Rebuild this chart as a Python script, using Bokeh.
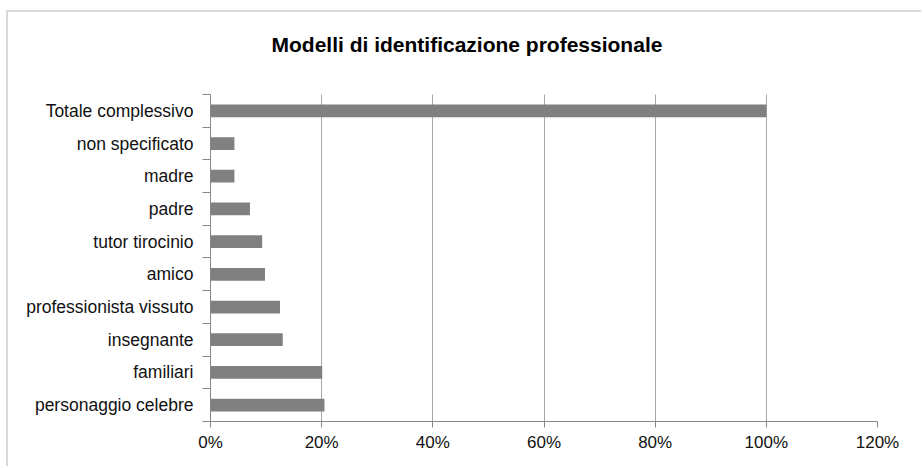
from bokeh.plotting import figure
from bokeh.models import Range1d, FixedTicker, NumeralTickFormatter
from bokeh.embed import file_html
from bokeh.resources import INLINE

title_text = "Modelli di identificazione professionale"
# categories listed bottom to top
categories = ["personaggio celebre", "familiari", "insegnante", "professionista vissuto",
              "amico", "tutor tirocinio", "padre", "madre", "non specificato", "Totale complessivo"]
values = [0.205, 0.201, 0.130, 0.125, 0.098, 0.093, 0.071, 0.043, 0.043, 1.0]
x_ticks = [0.0, 0.2, 0.4, 0.6, 0.8, 1.0, 1.2]

FONT = "Liberation Sans"
n = len(categories)
centers = [i + 0.5 for i in range(n)]

# layout (pixels): plot area from y=81 to y=409 inside the figure; the frame
# is extended upward to y=64 so that the title can sit higher.
TOP_BORDER = 64
FRAME_BOTTOM = 409
CAT_TOP = 81
y_top = n * (FRAME_BOTTOM - TOP_BORDER) / (FRAME_BOTTOM - CAT_TOP)

p = figure(width=915, height=456, output_backend="svg", toolbar_location=None,
           x_range=Range1d(x_ticks[0], x_ticks[-1]), y_range=Range1d(0, y_top),
           min_border_left=202, min_border_right=46, min_border_top=TOP_BORDER,
           min_border_bottom=456 - FRAME_BOTTOM)
p.outline_line_color = None
p.background_fill_color = "white"
p.border_fill_color = "white"

p.hbar(y=centers, right=values, left=0, height=0.39, fill_color="#808080", line_color=None)

# title
p.title.text = title_text
p.title.align = "left"
p.title.offset = 61
p.title.vertical_align = "top"
p.title.standoff = 40
p.title.text_font = FONT
p.title.text_font_style = "bold"
p.title.text_font_size = "21px"
p.title.text_color = "#000000"

# grid
p.ygrid.grid_line_color = None
p.xgrid.ticker = FixedTicker(ticks=x_ticks)
p.xgrid.cross_bounds = (0, n)
p.xgrid.grid_line_color = "#a6a6a6"
p.xgrid.grid_line_width = 1

# x axis
xa = p.xaxis[0]
xa.ticker = FixedTicker(ticks=x_ticks)
xa.formatter = NumeralTickFormatter(format="0%")
xa.axis_line_color = "#868686"
xa.major_tick_line_color = "#868686"
xa.major_tick_out = 6
xa.major_tick_in = 0
xa.minor_tick_line_color = None
xa.major_label_text_font = FONT
xa.major_label_text_font_size = "17px"
xa.major_label_text_color = "#111111"
xa.major_label_standoff = 5

# y axis
ya = p.yaxis[0]
ya.bounds = (0, n)
ya.ticker = FixedTicker(ticks=centers, minor_ticks=list(range(n + 1)))
ya.major_label_overrides = {c: lab for c, lab in zip(centers, categories)}
ya.axis_line_color = "#868686"
ya.major_tick_line_color = None
ya.major_tick_out = 0
ya.major_tick_in = 0
ya.minor_tick_line_color = "#868686"
ya.minor_tick_out = 8
ya.minor_tick_in = 0
ya.major_label_text_font = FONT
ya.major_label_text_font_size = "17.5px"
ya.major_label_text_color = "#111111"
ya.major_label_standoff = 9

p.styles = {"margin-left": "6px", "margin-top": "10px",
            "border-left": "2px solid #d9d9d9", "border-top": "2px solid #d9d9d9"}

open("out.html", "w").write(file_html(p, INLINE))
